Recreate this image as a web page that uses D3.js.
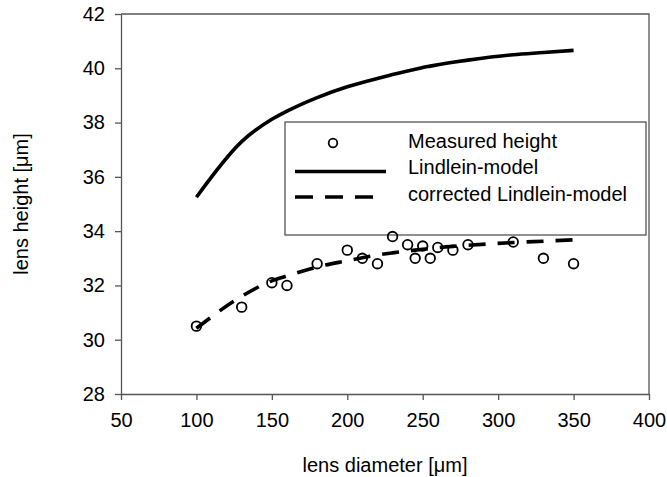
<!DOCTYPE html>
<meta charset="utf-8">
<style>
body { margin: 0; background: #fff; }
svg { font-family: "Liberation Sans", Arial, sans-serif; }
.axis path, .axis line { stroke: #555; stroke-width: 1.3px; }
.axis text { font-size: 20px; fill: #000; }
.label { font-size: 20px; fill: #000; }
.legend text { font-size: 20px; fill: #000; }
</style>
<body>
<script src="https://d3js.org/d3.v7.min.js"></script>
<script>
// lens diameter in um
var diameters = [100, 130, 150, 160, 180, 200, 210, 220, 230, 240, 245, 250, 255, 260, 270, 280, 310, 330, 350];
// measured height in um
var measured = [30.5, 31.2, 32.1, 32.0, 32.8, 33.3, 33.0, 32.8, 33.8, 33.5, 33.0, 33.45, 33.0, 33.4, 33.3, 33.5, 33.6, 33.0, 32.8];
// model curves, read at the same diameters
var lindlein = [35.25, 37.3, 38.12, 38.42, 38.92, 39.32, 39.48, 39.62, 39.77, 39.9, 39.96, 40.03, 40.08, 40.13, 40.22, 40.3, 40.5, 40.58, 40.66];
var corrected = [30.42, 31.6, 32.17, 32.35, 32.68, 32.91, 33.02, 33.12, 33.2, 33.27, 33.3, 33.33, 33.36, 33.39, 33.44, 33.48, 33.58, 33.63, 33.68];

var xTicks = [50, 100, 150, 200, 250, 300, 350, 400];
var yTicks = [28, 30, 32, 34, 36, 38, 40, 42];
var legendNames = ["Measured height", "Lindlein-model", "corrected Lindlein-model"];

var margin = { top: 14, right: 18, bottom: 83, left: 121 };
var width = 667 - margin.left - margin.right;
var height = 477 - margin.top - margin.bottom;

var root = d3.select("body").append("svg")
    .attr("width", 667)
    .attr("height", 477);

var svg = root.append("g")
    .attr("transform", "translate(" + margin.left + "," + margin.top + ")");

var x = d3.scaleLinear().domain([50, 400]).range([0, width]);
var y = d3.scaleLinear().domain([28, 42]).range([height, 0]);

// top and right frame
svg.append("path")
    .attr("d", "M0,0H" + width + "V" + height)
    .attr("fill", "none")
    .attr("stroke", "#555")
    .attr("stroke-width", 1.3);

svg.append("g")
    .attr("class", "x axis")
    .attr("transform", "translate(0," + height + ")")
    .call(d3.axisBottom(x).tickValues(xTicks).tickSizeInner(6).tickSizeOuter(0).tickPadding(13));

svg.append("g")
    .attr("class", "y axis")
    .call(d3.axisLeft(y).tickValues(yTicks).tickSizeInner(6).tickSizeOuter(0).tickPadding(10));

svg.selectAll(".axis text").attr("font-family", null);

// legend (drawn first so the points stay on top)
var legend = svg.append("g")
    .attr("class", "legend")
    .attr("transform", "translate(" + (285 - margin.left) + "," + (122 - margin.top) + ")");

legend.append("rect")
    .attr("width", 361)
    .attr("height", 113)
    .attr("fill", "#fff")
    .attr("stroke", "#555")
    .attr("stroke-width", 1.3);

legend.append("circle")
    .attr("cx", 48).attr("cy", 21)
    .attr("r", 4.3)
    .attr("fill", "none")
    .attr("stroke", "#000")
    .attr("stroke-width", 1.8);

legend.append("line")
    .attr("x1", 10).attr("x2", 101)
    .attr("y1", 49.5).attr("y2", 49.5)
    .attr("stroke", "#000")
    .attr("stroke-width", 3.6);

legend.append("line")
    .attr("x1", 10).attr("x2", 89)
    .attr("y1", 75).attr("y2", 75)
    .attr("stroke", "#000")
    .attr("stroke-width", 3.6)
    .attr("stroke-dasharray", "18,12");

legend.selectAll("text")
    .data(legendNames)
    .enter().append("text")
    .attr("x", 123)
    .attr("y", function(d, i) { return 26 + i * 26.3; })
    .text(function(d) { return d; });

var line = d3.line()
    .x(function(d, i) { return x(diameters[i]); })
    .y(function(d) { return y(d); })
    .curve(d3.curveMonotoneX);

svg.append("path")
    .datum(lindlein)
    .attr("d", line)
    .attr("fill", "none")
    .attr("stroke", "#000")
    .attr("stroke-width", 3.6);

svg.append("path")
    .datum(corrected)
    .attr("d", line)
    .attr("fill", "none")
    .attr("stroke", "#000")
    .attr("stroke-width", 3.6)
    .attr("stroke-dasharray", "17,12");

svg.selectAll("circle.pt")
    .data(measured)
    .enter().append("circle")
    .attr("class", "pt")
    .attr("cx", function(d, i) { return x(diameters[i]); })
    .attr("cy", function(d) { return y(d); })
    .attr("r", 4.8)
    .attr("fill", "none")
    .attr("stroke", "#000")
    .attr("stroke-width", 1.8);

// axis titles
svg.append("text")
    .attr("class", "label")
    .attr("x", width / 2)
    .attr("y", height + 78)
    .attr("text-anchor", "middle")
    .text("lens diameter [\u03bcm]");

svg.append("text")
    .attr("class", "label")
    .attr("transform", "translate(" + (28 - margin.left) + "," + (height / 2) + ") rotate(-90)")
    .attr("text-anchor", "middle")
    .text("lens height [\u03bcm]");
</script>
</body>
